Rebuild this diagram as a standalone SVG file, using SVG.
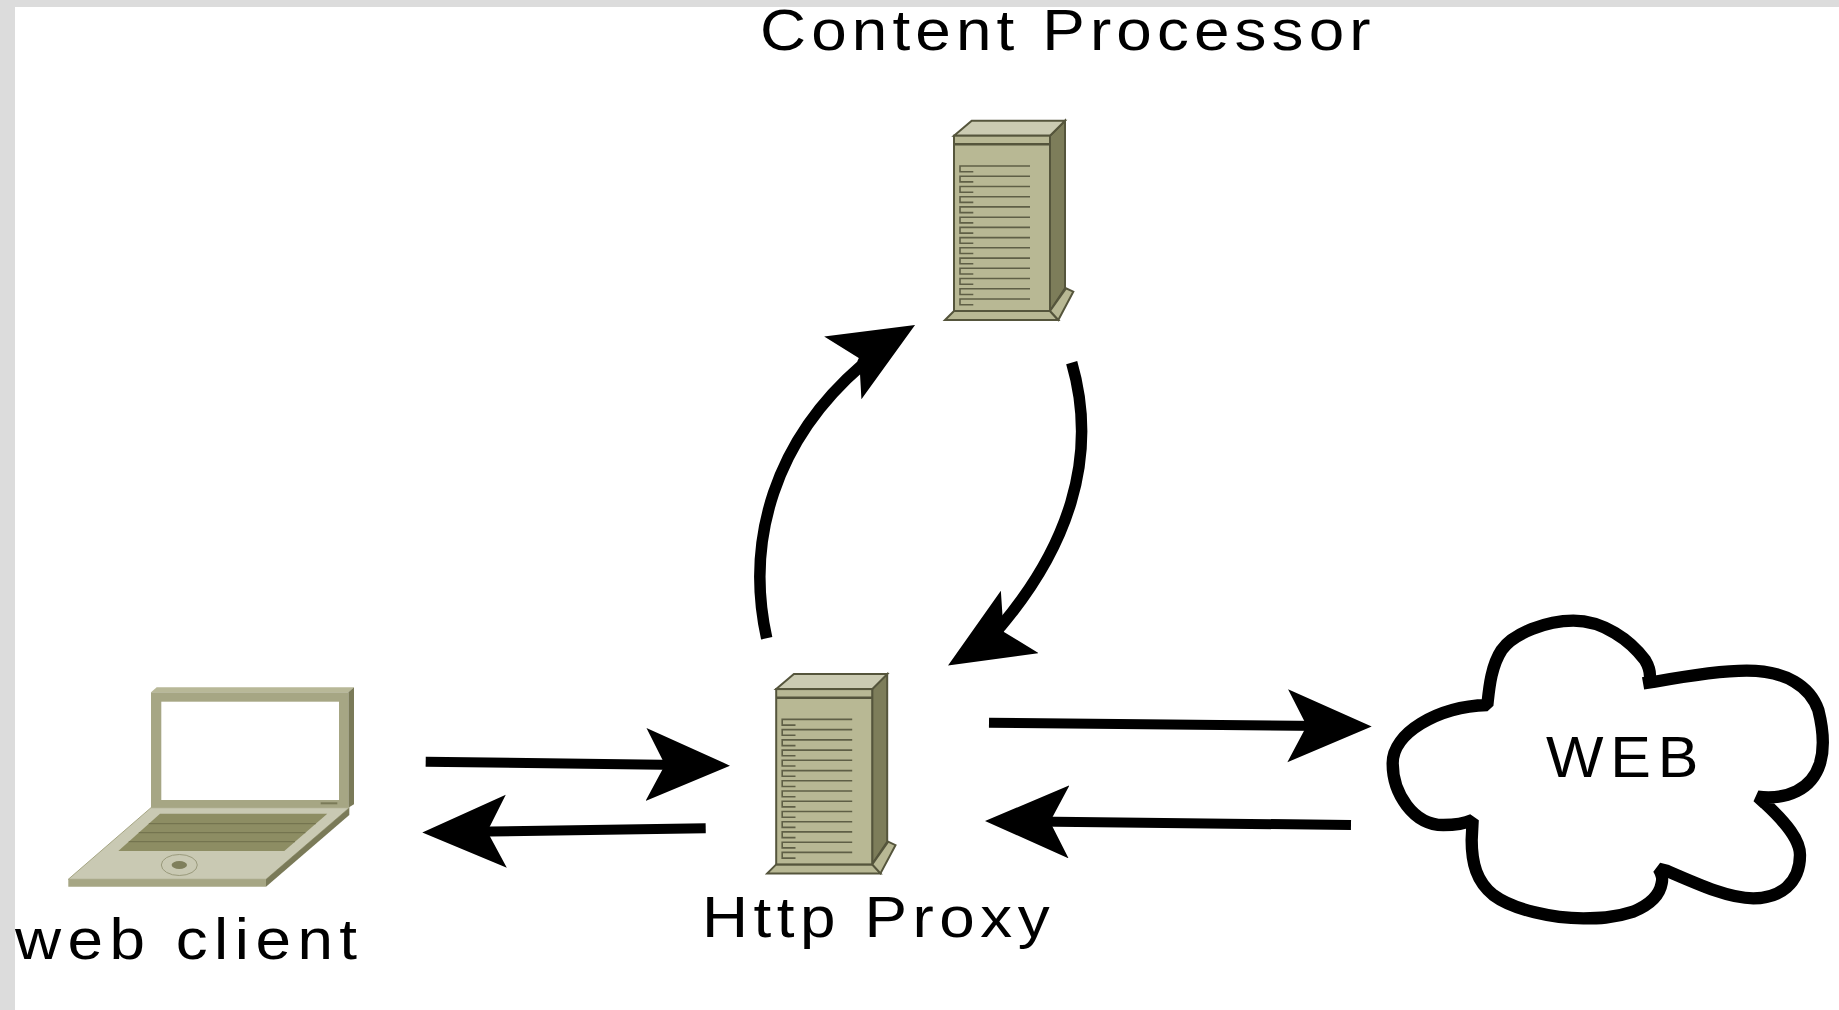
<svg xmlns="http://www.w3.org/2000/svg" xmlns:xlink="http://www.w3.org/1999/xlink" width="1839" height="1010" viewBox="0 0 1839 1010">
<style>
.lbl{font-family:"Liberation Sans",Arial,sans-serif;font-size:58px;fill:#000}
.sh{fill:none;stroke:#000;stroke-width:10;marker-end:url(#head)}
.front{fill:#b8b894;stroke:#55553c;stroke-width:2}
.top{fill:#cbcbb2;stroke:#55553c;stroke-width:2}
.side{fill:#7d7d5a;stroke:#55553c;stroke-width:2}
.ln{fill:none;stroke:#5f5f46;stroke-width:1.6}
</style>
<defs>
<marker id="head" markerUnits="userSpaceOnUse" markerWidth="90" markerHeight="80" refX="35" refY="36.5" orient="auto"><path d="M0 0L84 36.5L0 73L19 36.5Z" fill="#000"/></marker>
<g id="server">
<path class="side" d="M1050 135.7L1065 120.7V288.3L1050 311Z"/>
<path class="top" d="M954 135.7L971.7 120.7H1065L1050 135.7Z"/>
<path class="front" d="M945 320L954 311H1050L1058.3 320Z"/>
<path class="front" d="M1050 311L1066 288.3L1073.3 291.7L1058.3 320Z"/>
<rect class="front" x="954" y="135.7" width="96" height="175.3"/>
<path fill="none" stroke="#55553c" stroke-width="2.4" d="M954 144.3H1050"/>
<path class="ln" d="M1030 166H960V171.7H973.3M1030 176.2H960V181.9H973.3M1030 186.5H960V192.2H973.3M1030 196.7H960V202.4H973.3M1030 206.9H960V212.6H973.3M1030 217.2H960V222.9H973.3M1030 227.4H960V233.1H973.3M1030 237.6H960V243.3H973.3M1030 247.8H960V253.5H973.3M1030 258.1H960V263.8H973.3M1030 268.3H960V274H973.3M1030 278.5H960V284.2H973.3M1030 288.8H960V294.5H973.3M1030 299H960V304.7H973.3"/>
</g>
</defs>
<rect id="page" width="1839" height="1010" fill="#dcdcdc"/>
<rect x="15" y="7" width="1824" height="1003" fill="#fff"/>
<g id="connectors">
<path class="sh" d="M425.7 761.7L681 765"/>
<path class="sh" d="M705.7 828.3L471.3 831.7"/>
<path class="sh" d="M989 722.7L1322.7 726"/>
<path class="sh" d="M1351 825L1034 821.5"/>
<path class="sh" style="stroke-width:11.5" d="M766.7 638.3C745 540 775 440 862 365C865 358 867 353.6 872.9 350.1"/>
<path class="sh" style="stroke-width:11.5" d="M1071.7 362.7C1100 460 1065 550 1001 626C998 629 995 637 989.9 640.1"/>
</g>
<g id="content-processor">
<use href="#server" xlink:href="#server"/>
<text class="lbl" transform="translate(760 50) scale(1.1 1)" textLength="555" lengthAdjust="spacing">Content Processor</text>
</g>
<g id="http-proxy">
<use href="#server" xlink:href="#server" transform="translate(-177.8 553.4)"/>
<text class="lbl" transform="translate(702 937) scale(1.1 1)" textLength="316" lengthAdjust="spacing">Http Proxy</text>
</g>
<g id="web-client">
<path fill="#b8b898" d="M151 692.3L156.7 687.3H354L348.3 692.3Z"/>
<path fill="#7a7a58" d="M348.3 692.3L354 687.3V804.3L348.3 807.7Z"/>
<path fill="#a6a684" d="M151 692.3H348.3V807.7H151Z"/>
<rect x="161.3" y="701.7" width="177.7" height="98.3" fill="#fff"/>
<path stroke="#7a7a58" stroke-width="2" d="M320.7 803.3H337.3"/>
<path fill="#c9c9b3" stroke="#a6a684" d="M151 807.7H349.3L266 879.3H68.3Z"/>
<path fill="#a6a684" d="M68.3 879.3H266V886.7H68.3Z"/>
<path fill="#7a7a58" d="M349.3 807.7V815L266 886.7V879.3Z"/>
<path fill="#8d8d63" d="M160 813.7H327.3L284.3 851H118.3Z"/>
<path fill="none" stroke="#6f6f4c" stroke-width="1" d="M148.8 823.7H315.8M138.8 832.7H305.4M128.7 841.7H295"/>
<ellipse cx="179.3" cy="865" rx="7.7" ry="4" fill="#7f7f5c"/>
<ellipse cx="179.3" cy="865" rx="18" ry="10.5" fill="none" stroke="#9a9a7c" stroke-width="1"/>
<text class="lbl" transform="translate(15 959) scale(1.1 1)" textLength="311" lengthAdjust="spacing">web client</text>
</g>
<g id="web">
<path transform="translate(1370 600) scale(.33333)" fill="#fff" stroke="#000" stroke-width="37" stroke-linejoin="bevel" d="M352 315C357 270 362 200 395 150C430 100 530 62 610 62C700 62 780 120 825 180C840 205 843 225 838 246L820 250L850 246C950 228 1050 212 1130 212C1250 212 1320 260 1345 330C1360 390 1365 440 1350 490C1325 570 1250 600 1163 590L1185 610C1250 670 1290 720 1290 765C1290 850 1230 895 1150 895C1080 895 1000 860 890 812L866 806C880 830 877 840 875 850C870 880 850 910 790 935C730 955 680 955 640 955C550 955 430 930 370 885C320 845 305 790 305 720L308 660C280 672 250 675 220 675C130 675 68 580 68 490C68 400 200 320 352 315Z"/>
<text class="lbl" transform="translate(1546 777) scale(1.05 1)" textLength="145" lengthAdjust="spacing">WEB</text>
</g>
</svg>
